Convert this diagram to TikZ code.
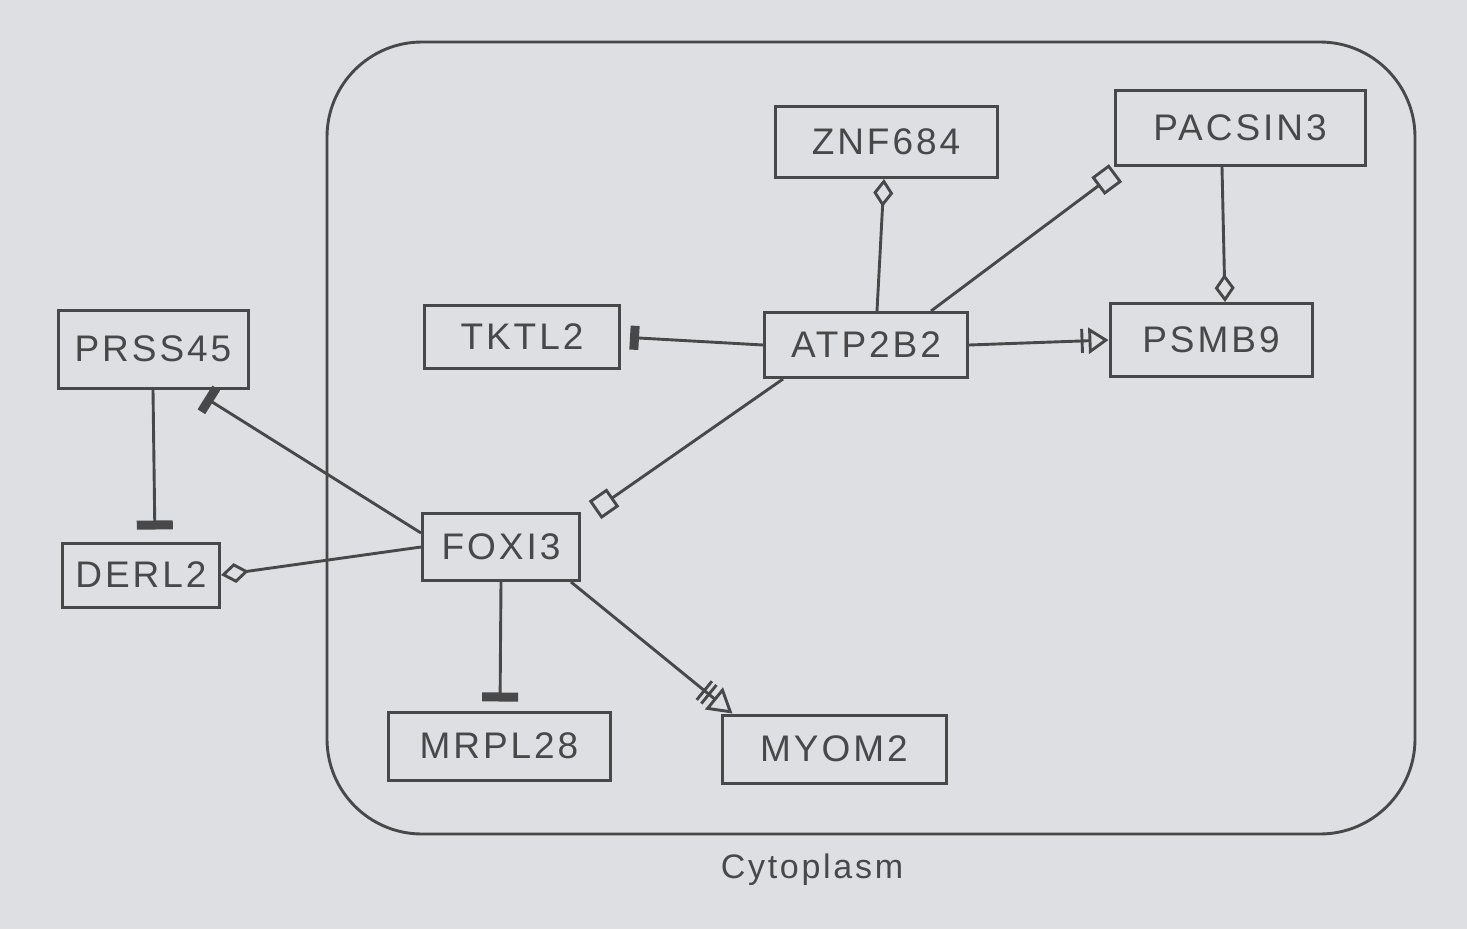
\documentclass[tikz,border=0pt]{standalone}
\usepackage{fontspec}
\setmainfont{Liberation Sans}
\newfontfamily\handfont[LetterSpace=8]{Liberation Sans}
\usetikzlibrary{arrows.meta}
\definecolor{paper}{RGB}{222,223,226}
\definecolor{pencil}{RGB}{72,72,74}
\tikzset{
  box/.style={draw=pencil, line width=3pt, inner sep=0pt, text=pencil,
    font=\handfont\fontsize{37}{42}\selectfont},
  link/.style={draw=pencil, line width=2.9pt},
  teebar/.style={-{Rectangle[length=9pt,width=#1]}},
  teebar/.default=24pt,
  odiamond/.style={-{Diamond[open,length=28pt,width=20pt]}},
  osquare/.style={-{Square[open,length=22pt]}},
  bartri/.style={-{Bar[width=24pt,sep=5pt]Triangle[open,length=20pt,width=26pt]}},
  barbartri/.style={-{Bar[width=24pt,sep=3pt]Bar[width=24pt,sep=5pt]Triangle[open,length=24pt,width=28pt]}},
}
\begin{document}
\begin{tikzpicture}[x=1pt,y=-1pt]
\fill[paper] (0,0) rectangle (1467,929);
\path[use as bounding box] (0,0) rectangle (1467,929);

% compartment
\node[draw=pencil, line width=2.9pt, rounded corners=95pt, minimum width=1088pt,
      minimum height=792pt, inner sep=0pt] (cyto) at (871,438) {};
\node[text=pencil, font=\handfont\fontsize{34}{40}\selectfont] (cytolabel) at (812,870) {Cytoplasm};

% nodes
\node[box, minimum width=222pt, minimum height=71pt] (znf) at (886,142) {ZNF684};
\node[box, minimum width=250pt, minimum height=75pt] (pac) at (1240,128) {PACSIN3};
\node[box, minimum width=195pt, minimum height=63pt] (tkt) at (522,337) {TKTL2};
\node[box, minimum width=203pt, minimum height=65pt] (atp) at (866,345) {ATP2B2};
\node[box, minimum width=202pt, minimum height=73pt] (psm) at (1211,340) {PSMB9};
\node[box, minimum width=190pt, minimum height=78pt] (prs) at (153,349) {PRSS45};
\node[box, minimum width=157pt, minimum height=64pt] (der) at (141,575) {DERL2};
\node[box, minimum width=157pt, minimum height=67pt] (fox) at (501,547) {FOXI3};
\node[box, minimum width=222pt, minimum height=68pt] (mrp) at (499,746) {MRPL28};
\node[box, minimum width=224pt, minimum height=68pt] (myo) at (834,749) {MYOM2};

% connectors
\draw[link, odiamond] ([xshift=11pt]atp.north) -- ([xshift=-2pt]znf.south);
\draw[link, osquare] ([xshift=-38pt]atp.north east) -- ([xshift=2pt,yshift=-6pt]pac.south west);
\draw[link, odiamond] ([xshift=-18pt]pac.south) -- ([xshift=14pt]psm.north);
\draw[link, teebar=24pt, shorten >=9pt] (atp.west) -- (tkt.east);
\draw[link, bartri] (atp.east) -- (psm.west);
\draw[link, osquare] ([xshift=20pt]atp.south west) -- ([xshift=14pt,yshift=2pt]fox.north east);
\draw[link, teebar=28pt] ([yshift=14pt]fox.west) -- ([xshift=52pt,yshift=-8pt]prs.south);
\draw[link, teebar=36pt, shorten >=12pt] (prs.south) -- ([xshift=14pt]der.north);
\draw[link, odiamond] (fox.west) -- (der.east);
\draw[link, teebar=36pt, shorten >=9pt] (fox.south) -- ([xshift=1pt]mrp.north);
\draw[link, barbartri] ([xshift=-10pt]fox.south east) -- ([xshift=12pt]myo.north west);
\end{tikzpicture}
\end{document}
